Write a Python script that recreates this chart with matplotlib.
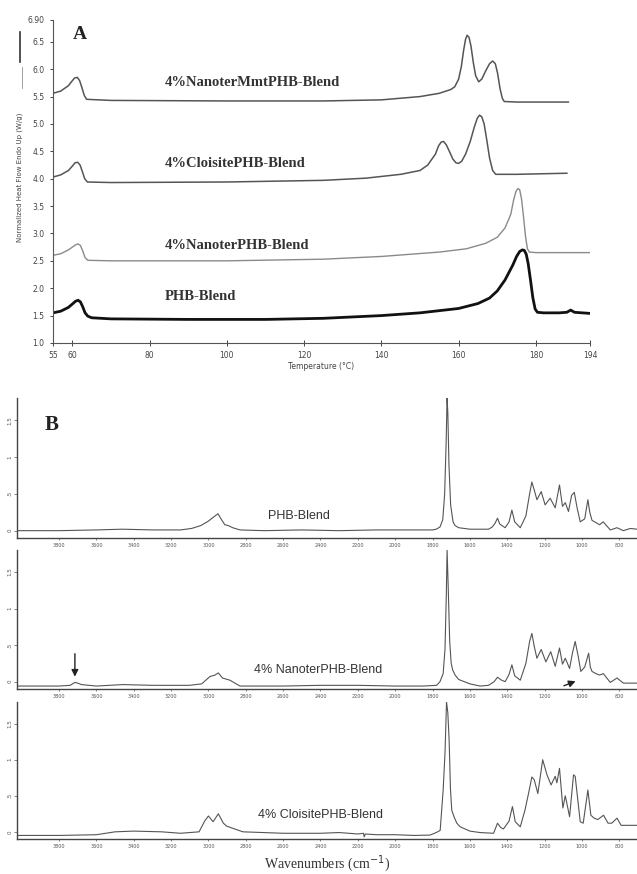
import matplotlib
matplotlib.use("Agg")
import matplotlib.pyplot as plt
from matplotlib.lines import Line2D

# ---- panel A : DSC curves (temperature in C, heat flow W/g) ----
t_phb = [55, 57, 59, 60, 60.8, 61.5, 62.1, 62.7, 63.3, 64, 65, 70, 90, 110, 125, 140,
         150, 160, 165, 168, 170, 172, 174, 175, 175.8, 176.5, 177, 177.5, 178, 178.6,
         179.2, 179.8, 180.4, 182, 186, 188, 189, 190, 192, 194]
v_phb = [1.55, 1.58, 1.65, 1.71, 1.76, 1.78, 1.75, 1.66, 1.55, 1.49, 1.46, 1.44, 1.43,
         1.43, 1.45, 1.50, 1.55, 1.63, 1.72, 1.82, 1.95, 2.15, 2.42, 2.58, 2.67, 2.70,
         2.69, 2.62, 2.45, 2.15, 1.83, 1.62, 1.56, 1.55, 1.55, 1.56, 1.60, 1.56, 1.55, 1.54]

t_nan = [55, 57, 59, 60, 60.8, 61.5, 62.1, 62.7, 63.3, 64, 70, 100, 125, 140, 155, 162,
         167, 170, 172, 173.5, 174.2, 174.8, 175.3, 175.8, 176.3, 176.8, 177.3, 177.8,
         178.3, 180, 186, 194]
v_nan = [2.60, 2.63, 2.70, 2.75, 2.79, 2.81, 2.78, 2.68, 2.56, 2.51, 2.50, 2.50, 2.53,
         2.58, 2.66, 2.72, 2.82, 2.93, 3.10, 3.35, 3.60, 3.76, 3.82, 3.80, 3.62, 3.30,
         2.95, 2.72, 2.66, 2.65, 2.65, 2.65]

t_clo = [55, 57, 59, 60, 60.7, 61.4, 62, 62.6, 63.2, 63.9, 70, 100, 125, 136, 145, 150,
         152, 154, 154.8, 155.5, 156.1, 156.8, 157.6, 158.5, 159.3, 160, 160.8, 161.8,
         163, 164, 164.8, 165.4, 166, 166.6, 167.3, 168, 168.8, 169.6, 175, 188]
v_clo = [4.03, 4.07, 4.15, 4.23, 4.29, 4.30, 4.25, 4.13, 4.00, 3.94, 3.93, 3.94, 3.97,
         4.01, 4.08, 4.15, 4.25, 4.45, 4.60, 4.67, 4.68, 4.62, 4.50, 4.36, 4.29, 4.28,
         4.32, 4.45, 4.68, 4.93, 5.10, 5.16, 5.13, 5.00, 4.70, 4.38, 4.15, 4.08, 4.08, 4.10]

t_mmt = [55, 57, 59, 60, 60.6, 61.3, 61.9, 62.5, 63.1, 63.7, 70, 100, 125, 140, 150,
         155, 158, 159, 160, 160.7, 161.3, 161.8, 162.2, 162.7, 163.2, 163.8, 164.4,
         165.2, 166, 167, 168, 168.8, 169.5, 170.1, 170.7, 171.3, 171.8, 175, 188.4]
v_mmt = [5.56, 5.60, 5.70, 5.79, 5.84, 5.85, 5.79, 5.66, 5.52, 5.45, 5.43, 5.42, 5.42,
         5.44, 5.50, 5.56, 5.63, 5.68, 5.82, 6.05, 6.35, 6.55, 6.62, 6.58, 6.42, 6.12,
         5.88, 5.77, 5.82, 5.97, 6.10, 6.15, 6.10, 5.92, 5.65, 5.47, 5.41, 5.40, 5.40]

a_labels = ["4%NanoterMmtPHB-Blend", "4%CloisitePHB-Blend", "4%NanoterPHB-Blend", "PHB-Blend"]
a_label_y = [5.76, 4.28, 2.78, 1.84]

# ---- panel B : FTIR spectra (wavenumber cm-1, absorbance) ----
w_phb = [4025, 3800, 3600, 3460, 3300, 3150, 3090, 3040, 3000, 2975, 2949, 2930,
         2912, 2895, 2870, 2831, 2700, 2500, 2300, 2100, 1900, 1800, 1780, 1760,
         1745, 1735, 1727, 1722, 1718, 1712, 1703, 1690, 1680, 1660, 1600, 1500,
         1480, 1465, 1452, 1440, 1411, 1390, 1375, 1360, 1330, 1300, 1280, 1268,
         1255, 1241, 1218, 1197, 1170, 1143, 1120, 1104, 1089, 1072, 1055, 1041,
         1025, 1009, 985, 968, 958, 946, 925, 905, 886, 848, 812, 778, 741, 705]
a_phb = [0.00, 0.00, 0.01, 0.02, 0.01, 0.01, 0.03, 0.07, 0.13, 0.18, 0.23, 0.15,
         0.08, 0.07, 0.04, 0.01, 0.00, 0.01, 0.00, 0.01, 0.01, 0.01, 0.02, 0.05,
         0.15, 0.50, 1.20, 1.80, 1.60, 0.90, 0.35, 0.12, 0.07, 0.04, 0.02, 0.02,
         0.05, 0.10, 0.17, 0.09, 0.04, 0.12, 0.28, 0.12, 0.04, 0.20, 0.50, 0.66,
         0.55, 0.42, 0.53, 0.35, 0.44, 0.31, 0.62, 0.33, 0.38, 0.26, 0.48, 0.52,
         0.30, 0.12, 0.16, 0.42, 0.25, 0.14, 0.11, 0.08, 0.12, 0.01, 0.04, 0.00,
         0.03, 0.02]

w_nan = [4025, 3800, 3740, 3715, 3700, 3680, 3600, 3460, 3300, 3100, 3036, 2992,
         2965, 2947, 2925, 2885, 2831, 2600, 2400, 2200, 2000, 1850, 1778, 1760,
         1743, 1733, 1726, 1722, 1716, 1708, 1700, 1692, 1679, 1660, 1600, 1545,
         1500, 1470, 1452, 1430, 1411, 1390, 1375, 1360, 1330, 1300, 1280, 1268,
         1255, 1241, 1218, 1193, 1167, 1143, 1120, 1104, 1089, 1066, 1050, 1036,
         1020, 1006, 985, 964, 955, 946, 925, 905, 885, 870, 848, 812, 778, 705]
a_nan = [-0.06, -0.06, -0.05, -0.01, -0.02, -0.04, -0.06, -0.04, -0.05, -0.05, -0.03, 0.07,
         0.09, 0.12, 0.05, 0.02, -0.06, -0.06, -0.05, -0.05, -0.06, -0.06, -0.05, 0.00,
         0.11, 0.45, 1.20, 1.80, 1.30, 0.55, 0.25, 0.16, 0.09, 0.03, -0.03, -0.06,
         -0.05, 0.00, 0.06, 0.02, 0.00, 0.10, 0.23, 0.08, 0.02, 0.25, 0.55, 0.66,
         0.48, 0.32, 0.44, 0.27, 0.41, 0.21, 0.46, 0.24, 0.32, 0.18, 0.40, 0.55,
         0.35, 0.14, 0.20, 0.39, 0.20, 0.14, 0.11, 0.09, 0.11, 0.06, -0.01, 0.05,
         -0.02, -0.02]

w_clo = [4025, 3800, 3600, 3500, 3400, 3250, 3150, 3050, 3020, 3000, 2975, 2947,
         2920, 2903, 2860, 2815, 2600, 2400, 2300, 2200, 2170, 2166, 2160, 2100,
         2000, 1900, 1813, 1780, 1759, 1743, 1733, 1725, 1718, 1711, 1704, 1697,
         1685, 1670, 1652, 1600, 1545, 1473, 1452, 1435, 1420, 1390, 1372, 1357,
         1330, 1305, 1286, 1268, 1255, 1236, 1210, 1187, 1165, 1143, 1134, 1120,
         1102, 1089, 1066, 1045, 1036, 1009, 993, 968, 952, 935, 915, 884, 860,
         840, 812, 790, 760, 705]
a_clo = [-0.05, -0.05, -0.04, 0.00, 0.01, 0.00, -0.02, 0.00, 0.15, 0.22, 0.14, 0.25,
         0.12, 0.08, 0.04, 0.00, -0.02, -0.02, -0.01, -0.03, -0.02, -0.07, -0.03, -0.04,
         -0.04, -0.05, -0.045, -0.01, 0.02, 0.58, 1.10, 1.80, 1.65, 1.27, 0.60, 0.30,
         0.21, 0.12, 0.07, 0.01, -0.01, -0.02, 0.12, 0.06, 0.04, 0.15, 0.35, 0.14,
         0.07, 0.30, 0.53, 0.76, 0.72, 0.53, 1.00, 0.79, 0.65, 0.77, 0.68, 0.88,
         0.33, 0.50, 0.21, 0.79, 0.77, 0.14, 0.12, 0.58, 0.23, 0.19, 0.17, 0.23, 0.12,
         0.12, 0.19, 0.09, 0.09, 0.09]

b_labels = ["PHB-Blend", "4% NanoterPHB-Blend", "4% CloisitePHB-Blend"]
b_ticks = [3800, 3600, 3400, 3200, 3000, 2800, 2600, 2400, 2200, 2000, 1800, 1600, 1400, 1200, 1000, 800]

serif = ["Liberation Serif", "DejaVu Serif"]
sans = ["Liberation Sans", "DejaVu Sans"]

fig = plt.figure(figsize=(6.37, 8.74), dpi=100)

# panel A
ax = fig.add_axes([0.0832, 0.6076, 0.843, 0.3696])
ax.plot(t_mmt, v_mmt, color="#555555", lw=1.1)
ax.plot(t_clo, v_clo, color="#555555", lw=1.1)
ax.plot(t_nan, v_nan, color="#8a8a8a", lw=1.0)
ax.plot(t_phb, v_phb, color="#111111", lw=2.0)
ax.set_xlim(55, 194)
ax.set_ylim(1.0, 6.90)
ax.set_xticks([55, 60, 80, 100, 120, 140, 160, 180, 194])
ax.set_xticklabels(["55", "60", "80", "100", "120", "140", "160", "180", "194"])
ax.set_yticks([1.0, 1.5, 2.0, 2.5, 3.0, 3.5, 4.0, 4.5, 5.0, 5.5, 6.0, 6.5, 6.90])
ax.set_yticklabels(["1.0", "1.5", "2.0", "2.5", "3.0", "3.5", "4.0", "4.5", "5.0",
                    "5.5", "6.0", "6.5", "6.90"])
ax.tick_params(axis="both", labelsize=5.5, colors="#444444", length=2.5, width=0.7)
ax.tick_params(axis="x", direction="inout", length=4)
for s in ["top", "right"]:
    ax.spines[s].set_visible(False)
for s in ["left", "bottom"]:
    ax.spines[s].set_color("#555555")
    ax.spines[s].set_linewidth(0.8)
ax.set_xlabel("Temperature (\u00b0C)", fontsize=5.5, color="#444444", labelpad=2)
for lab, yy in zip(a_labels, a_label_y):
    ax.text(84, yy, lab, fontsize=10.5, fontweight="bold", family=serif,
            color="#333333", va="center", ha="left")
ax.text(60.2, 6.64, "A", fontsize=14, fontweight="bold", family=serif, color="#222222",
        va="center")

# y label of panel A with its line
fig.text(0.031, 1 - 177 / 874, "Normalized Heat Flow Endo Up (W/g)", rotation=90,
         fontsize=5, color="#444444", ha="center", va="center")
fig.add_artist(Line2D([0.031, 0.031], [1 - 62 / 874, 1 - 32 / 874], color="#333333", lw=1.2))
fig.add_artist(Line2D([0.034, 0.034], [1 - 88 / 874, 1 - 67 / 874], color="#777777", lw=0.5))

# panel B
boxes = [[0.0267, 0.3844, 0.9733, 0.1602],
         [0.0267, 0.2117, 0.9733, 0.1590],
         [0.0267, 0.0400, 0.9733, 0.1568]]
spectra = [(w_phb, a_phb), (w_nan, a_nan), (w_clo, a_clo)]
label_y = [0.20, 0.16, 0.24]
label_x = [299, 318, 320]
for i, (box, (w, a)) in enumerate(zip(boxes, spectra)):
    bx = fig.add_axes(box)
    bx.plot(w, a, color="#555555", lw=0.8)
    bx.set_xlim(4025, 705)
    bx.set_ylim(-0.1, 1.8)
    bx.set_xticks(b_ticks)
    bx.set_xticklabels([str(t) for t in b_ticks])
    bx.set_yticks([0, 0.5, 1.0, 1.5])
    bx.set_yticklabels(["0", ".5", "1", "1.5"], rotation=90, va="center")
    bx.tick_params(axis="x", labelsize=3.5, colors="#555555", length=1.5, width=0.5, pad=2)
    bx.tick_params(axis="y", labelsize=4, colors="#555555", length=2, width=0.5, pad=1)
    for s in ["top", "right"]:
        bx.spines[s].set_visible(False)
    for s in ["left", "bottom"]:
        bx.spines[s].set_color("#444444")
        bx.spines[s].set_linewidth(1.0)
    bx.text(800 + (619 - label_x[i]) / 0.1866, label_y[i], b_labels[i], fontsize=9,
            family=sans, color="#333333", ha="center", va="center",
            transform=bx.transData)
    if i == 0:
        bx.text(3876, 1.43, "B", fontsize=15, fontweight="bold", family=serif,
                color="#222222", va="center")
    if i == 1:
        bx.annotate("", xy=(3715, 0.03), xytext=(3715, 0.42),
                    arrowprops=dict(arrowstyle="-|>", color="#222222", lw=1.0))
        bx.annotate("", xy=(1020, 0.02), xytext=(1110, -0.07),
                    arrowprops=dict(arrowstyle="-|>", color="#222222", lw=1.0))
    if i == 2:
        bx.set_xlabel("Wavenumbers (cm$^{-1}$)", fontsize=10, family=serif,
                      color="#333333", labelpad=3)

fig.savefig("out.png", dpi=100)
